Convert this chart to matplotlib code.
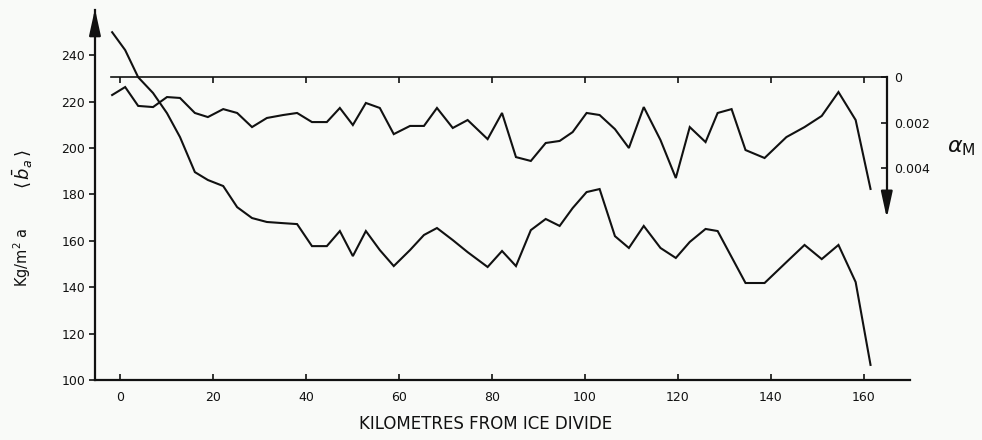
import matplotlib
matplotlib.use("Agg")
import matplotlib.pyplot as plt

# Distance from the ice divide (km), shared by both profiles
km = [-1.7, 1.1, 3.9, 7.1, 10.1, 12.9, 16.1, 18.9, 22.2, 25.2,
      28.4, 31.6, 35.1, 38.1, 41.3, 44.5, 47.3, 50.1, 52.9, 55.9,
      58.9, 62.4, 65.4, 68.2, 71.6, 74.8, 79.1, 82.2, 85.2, 88.4,
      91.6, 94.6, 97.4, 100.4, 103.2, 106.5, 109.5, 112.7, 116.3, 119.6,
      122.6, 126.0, 128.6, 131.6, 134.6, 138.7, 143.4, 147.3, 151.0, 154.6,
      158.3, 161.5]

# Mean accumulation <b_a> (kg/m^2 a), left axis
accumulation = [249.9, 242.2, 230.5, 223.7, 215.0, 204.7, 189.6, 186.2, 183.6, 174.5,
                169.8, 168.1, 167.6, 167.2, 157.7, 157.7, 164.2, 153.4, 164.2, 156.0,
                149.1, 156.0, 162.5, 165.5, 160.3, 155.1, 148.7, 155.6, 149.1, 164.6,
                169.4, 166.4, 174.1, 181.0, 182.3, 162.0, 156.9, 166.4, 156.9, 152.6,
                159.5, 165.1, 164.2, 153.0, 141.8, 141.8, 150.8, 158.2, 152.1, 158.2,
                142.2, 106.5]

# Surface slope alpha_M, right axis (drawn downwards)
alpha_m = [0.00079, 0.00044, 0.00127, 0.00132, 0.00088, 0.00092, 0.00158, 0.00176, 0.00141, 0.00158,
           0.00220, 0.00180, 0.00167, 0.00158, 0.00198, 0.00198, 0.00136, 0.00211, 0.00114, 0.00136,
           0.00251, 0.00215, 0.00215, 0.00136, 0.00224, 0.00189, 0.00273, 0.00158, 0.00352, 0.00369,
           0.00290, 0.00281, 0.00242, 0.00158, 0.00167, 0.00229, 0.00312, 0.00132, 0.00277, 0.00444,
           0.00220, 0.00286, 0.00158, 0.00141, 0.00321, 0.00356, 0.00264, 0.00220, 0.00171, 0.00066,
           0.00189, 0.00492]

x_ticks = [0, 20, 40, 60, 80, 100, 120, 140, 160]
y_ticks = [100, 120, 140, 160, 180, 200, 220, 240]
alpha_ticks = [0, 0.002, 0.004]
alpha_tick_labels = ["0", "0.002", "0.004"]

BG = "#f9faf8"
INK = "#111111"


def plot_profiles(output_file):
    """Draw accumulation and slope profiles along the flow line."""
    fig = plt.figure(figsize=(9.82, 4.40), dpi=100, facecolor=BG)
    ax = fig.add_axes([0.0967, 0.1364, 0.830, 0.841])
    ax.set_facecolor(BG)

    # left axis: accumulation
    ax.plot(km, accumulation, color=INK, lw=1.5, solid_joinstyle="miter")
    ax.set_xlim(-5.4, 170)
    ax.set_ylim(100, 259.5)
    ax.set_xticks(x_ticks)
    ax.set_yticks(y_ticks)
    ax.tick_params(axis="x", direction="in", length=4, width=1.2, pad=8,
                   labelsize=9, colors=INK)
    ax.tick_params(axis="y", direction="out", length=4, width=1.2, pad=3,
                   labelsize=9, colors=INK)
    for side in ("top", "right"):
        ax.spines[side].set_visible(False)
    for side in ("left", "bottom"):
        ax.spines[side].set_linewidth(1.6)
        ax.spines[side].set_color(INK)

    # arrow on top of the left axis
    ax.annotate("", xy=(-5.4, 260), xytext=(-5.4, 250), xycoords="data",
                annotation_clip=False,
                arrowprops=dict(arrowstyle="-|>,head_length=1.6,head_width=0.35",
                                color=INK, lw=1.6, shrinkA=0, shrinkB=0))

    # right axis: alpha_M, increasing downwards
    ax2 = ax.twinx()
    ax2.plot(km, alpha_m, color=INK, lw=1.5, solid_joinstyle="miter")
    ax2.set_ylim(0.01332, -0.00295)
    ax2.spines["right"].set_position(("data", 165))
    ax2.spines["right"].set_bounds(0, 0.0055)
    ax2.spines["right"].set_linewidth(1.6)
    ax2.spines["right"].set_color(INK)
    for side in ("top", "left", "bottom"):
        ax2.spines[side].set_visible(False)
    ax2.set_yticks(alpha_ticks)
    ax2.set_yticklabels(alpha_tick_labels)
    ax2.tick_params(axis="y", direction="in", length=4, width=1.2, pad=5,
                    labelsize=9, colors=INK)

    # zero line for alpha_M with its small ticks
    ax2.plot([-1.9, 165], [0, 0], color=INK, lw=1.2)
    ax2.plot(x_ticks, [0] * len(x_ticks), linestyle="none", marker=3,
             markersize=4, markeredgewidth=1.2, color=INK)

    # arrow at the bottom of the right axis
    ax2.annotate("", xy=(165, 0.0062), xytext=(165, 0.0050), xycoords="data",
                 annotation_clip=False,
                 arrowprops=dict(arrowstyle="-|>,head_length=1.6,head_width=0.35",
                                 color=INK, lw=1.6, shrinkA=0, shrinkB=0))

    # labels
    fig.text(0.494, 0.036, "KILOMETRES FROM ICE DIVIDE", fontsize=12,
             ha="center", va="center", color=INK)
    fig.text(0.023, 0.416, r"Kg/m$^2$ a", rotation=90, fontsize=10.5,
             ha="center", va="center", color=INK)
    fig.text(0.023, 0.616, r"$\langle\,\bar{b}_a\,\rangle$", rotation=90, fontsize=13,
             ha="center", va="center", color=INK)
    fig.text(0.979, 0.664, r"$\alpha_{\rm M}$", fontsize=16,
             ha="center", va="center", color=INK)

    fig.savefig(output_file, dpi=100, facecolor=BG)
    plt.close(fig)


def main():
    plot_profiles("out.png")


if __name__ == "__main__":
    main()
